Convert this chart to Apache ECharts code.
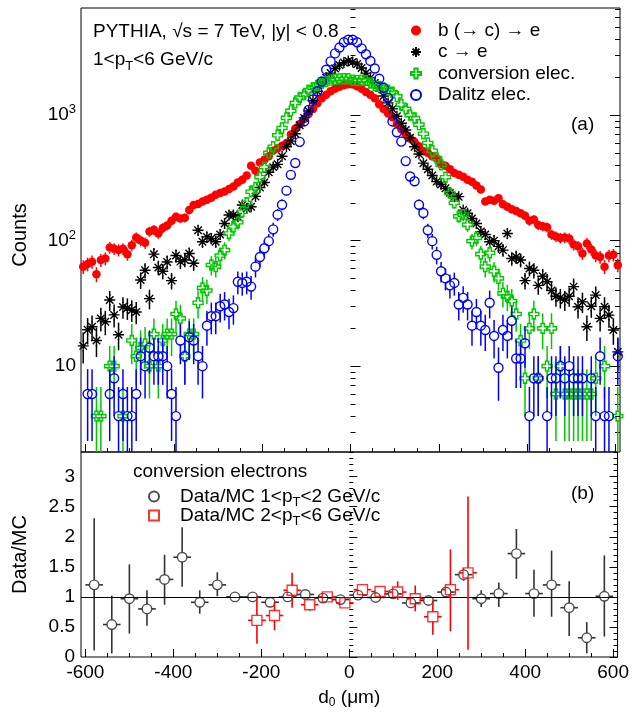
<!DOCTYPE html>
<html>
<head>
<meta charset="utf-8">
<script src="https://cdn.jsdelivr.net/npm/echarts@6/dist/echarts.min.js"></script>
<style>html,body{margin:0;padding:0;background:#fff}#c{width:632px;height:715px}</style>
</head>
<body>
<div id="c"></div>
<script>
// ---------------- data ----------------
// bin centres of the d0 histograms (um)
const binX = [
 -605,-595,-585,-575,-565,-555,-545,-535,-525,-515,
 -505,-495,-485,-475,-465,-455,-445,-435,-425,-415,
 -405,-395,-385,-375,-365,-355,-345,-335,-325,-315,
 -305,-295,-285,-275,-265,-255,-245,-235,-225,-215,
 -205,-195,-185,-175,-165,-155,-145,-135,-125,-115,
 -105,-95,-85,-75,-65,-55,-45,-35,-25,-15,
 -5,5,15,25,35,45,55,65,75,85,
 95,105,115,125,135,145,155,165,175,185,
 195,205,215,225,235,245,255,265,275,285,
 295,305,315,325,335,345,355,365,375,385,
 395,405,415,425,435,445,455,465,475,485,
 495,505,515,525,535,545,555,565,575,585,
 595,605];

// b (-> c) -> e
const bElec = [
 62,65,68,54,70,72,88,86,84,86,
 78,92,106,100,96,118,122,114,126,132,
 144,155,150,152,175,192,196,205,212,220,
 232,240,246,258,270,290,305,330,395,360,
 420,440,470,520,545,570,600,700,780,850,
 930,1020,1120,1240,1360,1450,1550,1620,1680,1730,
 1760,1750,1700,1620,1530,1450,1360,1220,1120,1030,
 960,850,770,700,650,610,565,515,500,470,
 450,405,395,370,345,335,322,305,294,275,
 255,205,212,208,218,195,186,178,172,165,
 158,144,147,133,130,128,112,108,105,106,
 104,93,90,79,95,85,76,74,62,76,
 77,64];

// c -> e
const cElec = [
 14.5,19.5,20.6,16,24,22.6,33.6,25.6,17.8,29.6,
 29,28,27,48.5,58,34.5,78,61,57,67.5,
 48,76,68,70,79,66,121,98,107,104,
 98,112,137,160,160,155,192,180,186,225,
 265,290,350,385,405,470,560,620,710,830,
 950,1080,1300,1550,1800,1980,2160,2350,2500,2620,
 2700,2650,2550,2370,2160,1980,1800,1640,1420,1250,
 1120,980,860,760,660,560,490,414,370,330,
 295,280,261,240,224,224,175,165,150,137,
 118,112,98,100,90,84,114,72,74,70,
 48,60,58,44,52,47,40,36,35,33.6,
 36,43,29.7,32.5,20.6,30,36.8,24,29.7,25.5,
 19.4,13];

// conversion electrons
const convElec = [
 null,null,null,4,4,null,10,10,null,4,
 null,16,12,14,15,10,18,10,16,18,
 18,26,24,12,18,18,32,42,40,64,
 62,76,84,114,129,140,170,200,245,265,
 320,385,500,560,690,790,950,1080,1250,1380,
 1450,1580,1650,1720,1800,1850,1900,1930,1940,1950,
 1950,1900,1880,1900,1880,1800,1720,1690,1640,1580,
 1520,1410,1210,1120,1000,947,840,710,600,520,
 454,402,320,239,200,156,161,134,99,105,
 78,62,80,57,50,38,36,33,26,16,
 8,20,26,8,20,10,20,6,10,6,
 6,6,6,6,6,6,8,null,10,null,
 null,4];

// Dalitz electrons
const dalitzElec = [
 null,6,6,null,null,null,6,8,4,6,
 4,4,6,12,10,14,12,12,12,10,
 6,4,16,12,17,16,12,10,21,25,
 25,30,31,27,29,47,46,47,43,62,
 74,87,99,123,161,193,250,334,415,612,
 890,1100,1330,1550,1850,2300,2680,3100,3450,3800,
 3980,3980,3800,3400,3050,2700,2350,1950,1650,1370,
 890,730,615,430,324,297,193,166,121,99,
 77,57,50,44,46,31,35,31,21,27,
 21,19.4,32,17.4,9.7,19.4,17.4,23,11.5,11.5,
 15.2,4,8,8,null,4,8,8,10,8,
 10,8,8,8,null,8,4,12,4,4,
 null,12];

// Data/MC ratio, 1<pT<2 GeV/c
const ratio1X  = [-580,-540,-500,-460,-420,-380,-340,-300,-260,-220,-180,-140,-100,-60,-20,20,60,100,140,180,220,260,300,340,380,420,460,500,540,580];
const ratio1Y  = [1.20,0.54,0.97,0.80,1.29,1.66,0.91,1.20,1.00,1.00,0.91,1.00,1.04,0.98,0.955,1.03,0.99,1.05,0.90,0.94,1.08,1.37,0.97,1.055,1.72,1.055,1.20,0.82,0.32,1.01];
const ratio1Lo = [0.11,0.06,0.39,0.52,0.87,1.17,0.72,1.01,0.92,0.93,0.84,0.95,1.00,0.95,0.93,1.00,0.96,1.02,0.85,0.88,1.00,1.27,0.83,0.83,1.30,0.67,0.67,0.35,0.06,0.34];
const ratio1Hi = [2.31,1.02,1.54,1.11,1.70,2.16,1.11,1.41,1.08,1.07,0.98,1.05,1.08,1.02,0.98,1.06,1.02,1.08,0.95,1.00,1.16,1.47,1.11,1.24,2.13,1.45,1.77,1.26,0.58,1.69];
// Data/MC ratio, 2<pT<6 GeV/c
const ratio2X  = [-210,-170,-130,-90,-50,-10,30,70,110,150,190,230,270];
const ratio2Y  = [0.61,0.69,1.11,0.87,1.00,0.90,1.12,1.09,1.08,0.97,0.67,1.12,1.40];
const ratio2Lo = [0.22,0.445,0.82,0.77,0.93,0.84,1.05,1.02,0.95,0.76,0.37,0.43,0.12];
const ratio2Hi = [1.01,0.91,1.40,0.97,1.07,0.96,1.19,1.17,1.26,1.19,0.94,1.79,2.67];
const ratioHalfWidth = 20;

// tick values
const xTicks      = [-600,-400,-200,0,200,400,600];
const xMinorTicks = [-550,-500,-450,-350,-300,-250,-150,-100,-50,50,100,150,250,300,350,450,500,550];
const yTicksTop   = [10,100,1000];
const yMinorTop   = [3,4,5,6,7,8,9,20,30,40,50,60,70,80,90,200,300,400,500,600,700,800,900,2000,3000,4000,5000,6000,7000];
const yTicksBot   = [0,0.5,1,1.5,2,2.5,3];
const yMinorBot   = [0.1,0.2,0.3,0.4,0.6,0.7,0.8,0.9,1.1,1.2,1.3,1.4,1.6,1.7,1.8,1.9,2.1,2.2,2.3,2.4,2.6,2.7,2.8,2.9,3.1,3.2,3.3,3.4];

// ---------------- chart ----------------
const FONT = '"Liberation Sans", Arial, Helvetica, sans-serif';
const chart = echarts.init(document.getElementById('c'));

const STAR   = 'path://M5,0L5,10M0,5L10,5M1.6,1.6L8.4,8.4M8.4,1.6L1.6,8.4';
const CROSS  = 'path://M3.4,0L6.6,0L6.6,3.4L10,3.4L10,6.6L6.6,6.6L6.6,10L3.4,10L3.4,6.6L0,6.6L0,3.4L3.4,3.4Z';
const SQUARE = 'path://M0,0L10,0L10,10L0,10Z';

const topSeries = [
  {name: 'b (→ c) → e',     vals: bElec,      w: 1,   color: '#ff0000', symbol: 'circle', size: 8.5, fill: true},
  {name: 'c → e',           vals: cElec,      w: 1.1, color: '#000000', symbol: STAR,     size: 11,  fill: false},
  {name: 'conversion elec.',vals: convElec,   w: 2,   color: '#00c800', symbol: CROSS,    size: 10,  fill: false},
  {name: 'Dalitz elec.',    vals: dalitzElec, w: 2,   color: '#0000ff', symbol: 'circle', size: 9,   fill: false}
];

function errRenderer(color, width, gap) {
  return function (params, api) {
    const cs = params.coordSys;
    const x = api.value(0), y = api.value(1), lo = api.value(2), hi = api.value(3), hw = api.value(4);
    const p = api.coord([x, y]);
    const yTop = cs.y, yBot = cs.y + cs.height, xL = cs.x, xR = cs.x + cs.width;
    let pHi = api.coord([x, hi])[1];
    let pLo = lo > 0 ? api.coord([x, lo])[1] : yBot;
    if (!isFinite(pLo)) pLo = yBot;
    if (!isFinite(pHi)) pHi = yTop;
    pHi = Math.max(pHi, yTop); pLo = Math.min(pLo, yBot);
    const ch = [];
    const st = {stroke: color, lineWidth: width};
    if (p[0] < xL - 1 || p[0] > xR + 1) return {type: 'group', children: []};
    if (pHi < p[1] - gap) ch.push({type: 'line', shape: {x1: p[0], y1: Math.min(p[1] - gap, yBot), x2: p[0], y2: pHi}, style: st});
    if (pLo > p[1] + gap) ch.push({type: 'line', shape: {x1: p[0], y1: Math.max(p[1] + gap, yTop), x2: p[0], y2: pLo}, style: st});
    if (hw > 0) {
      const a = Math.max(api.coord([x - hw, y])[0], xL), b = Math.min(api.coord([x + hw, y])[0], xR);
      if (a < p[0] - gap) ch.push({type: 'line', shape: {x1: a, y1: p[1], x2: p[0] - gap, y2: p[1]}, style: st});
      if (b > p[0] + gap) ch.push({type: 'line', shape: {x1: p[0] + gap, y1: p[1], x2: b, y2: p[1]}, style: st});
    }
    return {type: 'group', silent: true, children: ch};
  };
}

const series = [];
topSeries.forEach(function (s, k) {
  const pts = [], errs = [];
  binX.forEach(function (x, i) {
    const v = s.vals[i];
    if (v == null) return;
    pts.push([x, v]);
    const e = Math.sqrt(s.w * v);          // statistical (Poisson) uncertainty of the bin
    errs.push([x, v, v - e, v + e, 0]);
  });
  series.push({
    name: 'err' + k, type: 'custom', xAxisIndex: 0, yAxisIndex: 0, z: 2 + 2 * k,
    renderItem: errRenderer(s.color, 1.5, 4), data: errs, encode: {x: 0, y: 1}, silent: true
  });
  series.push({
    name: s.name, type: 'scatter', xAxisIndex: 0, yAxisIndex: 0, z: 3 + 2 * k, clip: true,
    symbol: s.symbol, symbolSize: s.size, data: pts,
    itemStyle: s.fill ? {color: s.color, opacity: 1}
                      : {color: 'rgba(0,0,0,0)', borderColor: s.color, borderWidth: 1.4, opacity: 1},
    emphasis: {disabled: true}
  });
});

function ratioData(X, Y, L, H) {
  return {
    pts: X.map(function (x, i) { return [x, Y[i]]; }),
    errs: X.map(function (x, i) { return [x, Y[i], L[i], H[i], ratioHalfWidth]; })
  };
}
const r1 = ratioData(ratio1X, ratio1Y, ratio1Lo, ratio1Hi);
const r2 = ratioData(ratio2X, ratio2Y, ratio2Lo, ratio2Hi);

series.push({
  name: 'line1', type: 'line', xAxisIndex: 2, yAxisIndex: 4, data: [], z: 1,
  markLine: {silent: true, symbol: 'none', label: {show: false}, animation: false,
             lineStyle: {color: '#000', type: 'solid', width: 1}, data: [{yAxis: 1}]}
});
series.push({name: 'e1', type: 'custom', xAxisIndex: 2, yAxisIndex: 4, z: 3,
  renderItem: errRenderer('#333333', 1.6, 5), data: r1.errs, encode: {x: 0, y: 1}, silent: true});
series.push({name: 'r1', type: 'scatter', xAxisIndex: 2, yAxisIndex: 4, z: 4, symbol: 'circle', symbolSize: 9.5,
  data: r1.pts, itemStyle: {color: 'rgba(0,0,0,0)', borderColor: '#222', borderWidth: 1.4}, emphasis: {disabled: true}});
series.push({name: 'e2', type: 'custom', xAxisIndex: 2, yAxisIndex: 4, z: 5,
  renderItem: errRenderer('#ff0000', 1.6, 5), data: r2.errs, encode: {x: 0, y: 1}, silent: true});
series.push({name: 'r2', type: 'scatter', xAxisIndex: 2, yAxisIndex: 4, z: 6, symbol: SQUARE, symbolSize: 10,
  data: r2.pts, itemStyle: {color: 'rgba(0,0,0,0)', borderColor: '#ff0000', borderWidth: 1.4}, emphasis: {disabled: true}});

const ratioLabels = {
  r1: 'Data/MC 1<p{sub|T}<2 GeV/c',
  r2: 'Data/MC 2<p{sub|T}<6 GeV/c'
};

const tickLine = {color: '#000', width: 1};
function xAx(grid, vals, len, labels, extra) {
  return Object.assign({
    type: 'value', gridIndex: grid, position: 'bottom', min: -610, max: 610,
    axisLine: {show: false}, splitLine: {show: false},
    axisTick: {show: true, inside: true, length: len, lineStyle: tickLine, customValues: vals},
    axisLabel: labels ? {show: true, customValues: vals, fontSize: 19, fontFamily: FONT, color: '#000', margin: 6}
                      : {show: false, customValues: vals}
  }, extra || {});
}
function yAx(grid, pos, log, vals, len, labelCfg, extra) {
  const a = {
    type: log ? 'log' : 'value', gridIndex: grid, position: pos,
    min: log ? 2.07 : 0, max: log ? 7130 : 3.41,
    axisLine: {show: false}, splitLine: {show: false},
    axisTick: {show: true, inside: true, length: len, lineStyle: tickLine, customValues: vals},
    axisLabel: labelCfg || {show: false, customValues: vals}
  };
  if (log) a.logBase = 10;
  return Object.assign(a, extra || {});
}

const option = {
  animation: false,
  backgroundColor: '#fff',
  textStyle: {fontFamily: FONT},
  grid: [
    {left: 81, right: 12, top: 8, height: 444, show: true, borderColor: '#000', borderWidth: 1, backgroundColor: 'transparent'},
    {left: 81, right: 12, top: 452, height: 205, show: true, borderColor: '#000', borderWidth: 1, backgroundColor: 'transparent'}
  ],
  xAxis: [
    xAx(0, xTicks, 8, false),
    xAx(0, xMinorTicks, 4, false),
    xAx(1, xTicks, 8, true, {
      name: '{i|d}{sub|0}{i| (μm)}', nameLocation: 'middle', nameGap: 30,
      nameTextStyle: {fontSize: 19, fontFamily: FONT, color: '#000',
        rich: {i: {fontSize: 19, fontFamily: FONT}, sub: {fontSize: 12, fontFamily: FONT, padding: [10, 0, 0, 0]}}}
    }),
    xAx(1, xMinorTicks, 4, false)
  ],
  yAxis: [
    yAx(0, 'left', true, yTicksTop, 10, {
      show: true, customValues: yTicksTop, margin: 5, fontFamily: FONT, color: '#000',
      formatter: function (v) {
        const e = Math.round(Math.log10(v));
        return e === 1 ? '{b|10}' : '{b|10}{s|' + e + '}';
      },
      rich: {b: {fontSize: 19, fontFamily: FONT, color: '#000'}, s: {fontSize: 13, fontFamily: FONT, color: '#000', padding: [0, 0, 11, 0]}}
    }, {name: 'Counts', nameLocation: 'middle', nameGap: 51, nameTextStyle: {fontSize: 20, fontFamily: FONT, color: '#000', padding: [0, 10, 0, 0]}}),
    yAx(0, 'left', true, yMinorTop, 5),
    yAx(0, 'right', true, yTicksTop, 10),
    yAx(0, 'right', true, yMinorTop, 5),
    yAx(1, 'left', false, yTicksBot, 8, {
      show: true, customValues: yTicksBot, margin: 6, fontSize: 19, fontFamily: FONT, color: '#000',
      formatter: function (v) { return String(v); }
    }, {name: 'Data/MC', nameLocation: 'middle', nameGap: 51, nameTextStyle: {fontSize: 20, fontFamily: FONT, color: '#000'}}),
    yAx(1, 'left', false, yMinorBot, 4),
    yAx(1, 'right', false, yTicksBot, 8),
    yAx(1, 'right', false, yMinorBot, 4)
  ],
  legend: [
    {
      orient: 'vertical', left: 405, top: 16, itemWidth: 10, itemHeight: 10, itemGap: 2.5,
      selectedMode: false, textStyle: {fontSize: 19, fontFamily: FONT, color: '#000', padding: [0, 0, 0, 12]},
      data: topSeries.map(function (s) { return s.name; })
    },
    {
      orient: 'vertical', left: 143, top: 482, itemWidth: 10, itemHeight: 10, itemGap: -3,
      selectedMode: false,
      formatter: function (n) { return ratioLabels[n]; },
      textStyle: {fontSize: 19, fontFamily: FONT, color: '#000', padding: [0, 0, 0, 16],
        rich: {sub: {fontSize: 13, fontFamily: FONT, color: '#000', padding: [12, 0, 0, 0]}}},
      data: ['r1', 'r2']
    }
  ],
  graphic: [
    {type: 'text', x: 93, y: 32, style: {text: 'PYTHIA, √s = 7 TeV, |y| < 0.8', fontSize: 19, fontFamily: FONT, fill: '#000', verticalAlign: 'middle'}},
    {type: 'text', x: 93, y: 60, style: {text: '1<p{sub|T}<6 GeV/c', fontSize: 19, fontFamily: FONT, fill: '#000', verticalAlign: 'middle',
      rich: {sub: {fontSize: 13, fontFamily: FONT, fill: '#000', padding: [12, 0, 0, 0]}}}},
    {type: 'text', x: 571, y: 125, style: {text: '(a)', fontSize: 19, fontFamily: FONT, fill: '#000', verticalAlign: 'middle'}},
    {type: 'text', x: 571, y: 494, style: {text: '(b)', fontSize: 19, fontFamily: FONT, fill: '#000', verticalAlign: 'middle'}},
    {type: 'text', x: 133, y: 472, style: {text: 'conversion electrons', fontSize: 19, fontFamily: FONT, fill: '#000', verticalAlign: 'middle'}}
  ],
  series: series
};
chart.setOption(option);
</script>
</body>
</html>
